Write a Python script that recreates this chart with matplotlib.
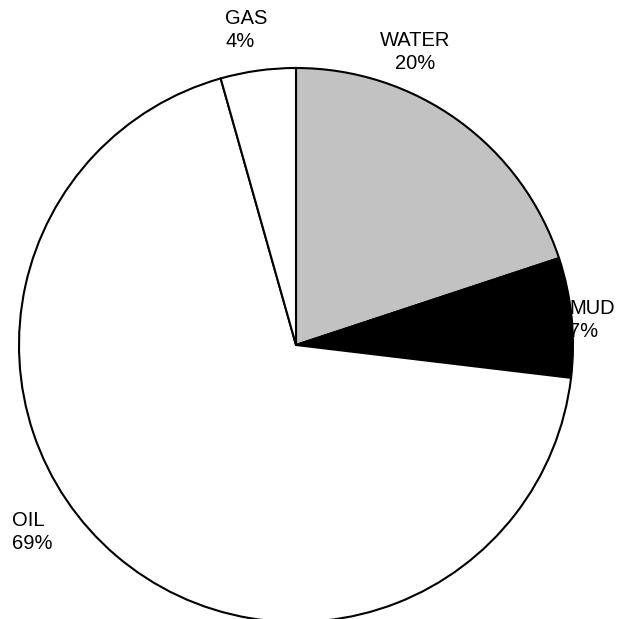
import numpy as np
import matplotlib
matplotlib.use("Agg")
import matplotlib.pyplot as plt

# fluid fractions, clockwise from 12 o'clock
labels = ["WATER", "MUD", "OIL", "GAS"]
shares = [20, 7, 69, 4.4]
pcts = ["20%", "7%", "69%", "4%"]
colors = ["#c2c2c2", "black", "white", "white"]

plt.rcParams['font.family'] = ['Liberation Sans', 'DejaVu Sans']

fig = plt.figure(figsize=(6.18, 6.19), dpi=100)
ax = fig.add_axes([0, 0, 1, 1])
ax.set_xlim(0, 618)
ax.set_ylim(0, 619)
ax.set_aspect('equal')
ax.axis('off')

H = 619
wedges, _ = ax.pie(shares, colors=colors, startangle=90, counterclock=False,
                   center=(296, H - 345), radius=277,
                   wedgeprops=dict(edgecolor='black', linewidth=1.5))
ax.set_xlim(0, 618)
ax.set_ylim(0, 619)

# label positions (pixel space, from the top)
pos = {"GAS": (225, 30, 'left'), "WATER": (415, 52, 'center'),
       "MUD": (569, 320, 'left'), "OIL": (12, 532, 'left')}
for lab, p in zip(labels, pcts):
    x, y, ha = pos[lab]
    ax.text(x, H - y, f"{lab}\n{p}", ha=ha, va='center', fontsize=14.5,
            linespacing=1.25, color='black')

fig.savefig("out.png", dpi=100)
